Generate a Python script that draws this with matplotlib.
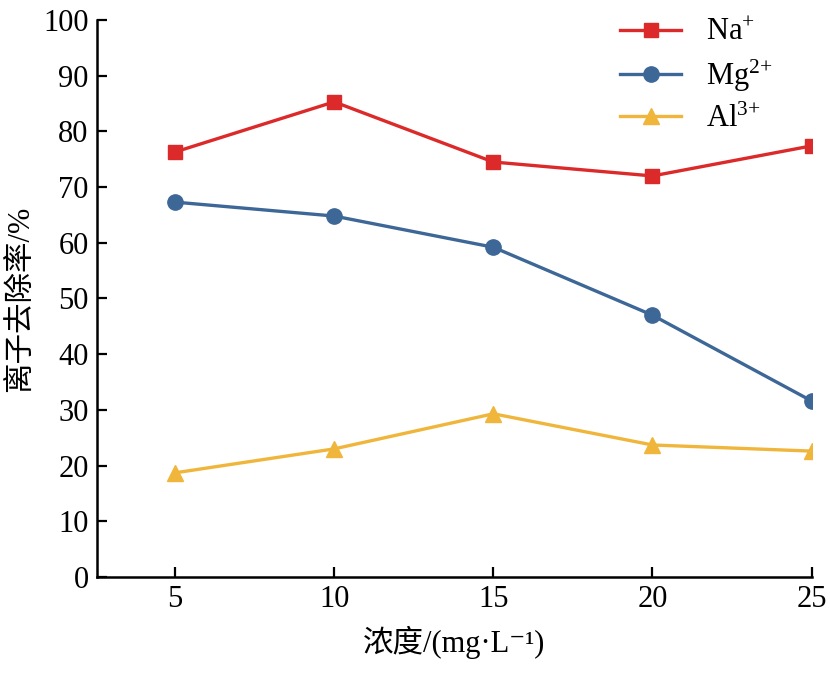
import matplotlib
matplotlib.use("Agg")
import matplotlib.pyplot as plt

conc = [5, 10, 15, 20, 25]
na = [76.3, 85.3, 74.5, 72.0, 77.4]
mg = [67.3, 64.8, 59.2, 47.0, 31.6]
al = [18.7, 23.0, 29.3, 23.7, 22.6]
labels = ["Na$^{{+}}$", "Mg$^{2{+}}$", "Al$^{3{+}}$"]
yticks = [0, 10, 20, 30, 40, 50, 60, 70, 80, 90, 100]

plt.rcParams['font.family'] = ['Liberation Serif', 'Noto Sans CJK SC', 'DejaVu Sans']
plt.rcParams['mathtext.fontset'] = 'custom'
plt.rcParams['mathtext.rm'] = 'Liberation Serif'
plt.rcParams['mathtext.it'] = 'Liberation Serif'
plt.rcParams['mathtext.bf'] = 'Liberation Serif:bold'
plt.rcParams['mathtext.default'] = 'rm'
plt.rcParams['axes.unicode_minus'] = False

fig = plt.figure(figsize=(8.3, 6.75), dpi=100)
ax = fig.add_axes([0.1169, 0.1452, 0.861, 0.8252])

ax.plot(conc, na, color='#dc2a2a', lw=2.4, marker='s', ms=10, label=labels[0])
ax.plot(conc, mg, color='#3d6796', lw=2.4, marker='o', ms=11, label=labels[1])
ax.plot(conc, al, color='#f0b63c', lw=2.4, marker='^', ms=11, label=labels[2])

ax.set_xlim(2.55, 25)
ax.set_ylim(0, 100)
ax.set_xticks(conc)
ax.set_yticks(yticks)
for s in ['top', 'right']:
    ax.spines[s].set_visible(False)
for s in ['left', 'bottom']:
    ax.spines[s].set_linewidth(1.8)
ax.tick_params(direction='in', length=7, width=1.6, labelsize=22, pad=6)

ax.set_xlabel('浓度/(mg·L⁻¹)', fontsize=22, labelpad=8)
ax.set_ylabel('离子去除率/%', fontsize=22, labelpad=6)

ax.legend(loc='upper right', frameon=False, fontsize=22, handlelength=2.0,
          borderaxespad=0.0, labelspacing=0.35, bbox_to_anchor=(0.962, 1.025))

fig.savefig('out.png', dpi=100)
